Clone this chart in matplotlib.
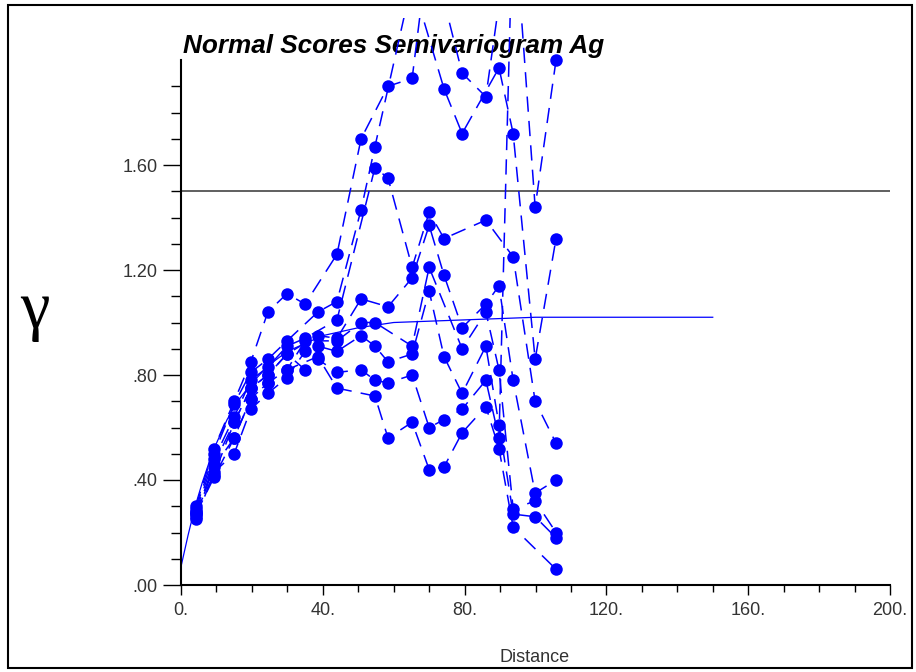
import matplotlib
matplotlib.use('Agg')
import matplotlib.pyplot as plt
from matplotlib.patches import Rectangle
import numpy as np

plt.rcParams['font.family'] = ['Liberation Sans', 'DejaVu Sans']

# experimental semivariogram, one pair of arrays per direction
# (values above 2.16 run off the top of the plot in the reference)
dir1_dist = [4.2, 9.3, 15.0, 19.7, 24.5, 29.9, 35.0, 44.0, 50.8, 58.4, 65.2, 70.0, 79.3, 86.0, 93.7, 99.9, 105.8]
dir1_gamma = [0.30, 0.52, 0.70, 0.85, 1.04, 1.11, 1.07, 1.26, 1.70, 1.90, 1.93, 2.45, 1.95, 1.86, 2.60, 1.44, 2.00]

dir2_dist = [4.2, 9.3, 15.0, 19.7, 24.5, 29.9, 38.6, 44.0, 50.8, 54.7, 65.2, 74.2, 79.3, 89.7, 93.7, 99.9, 105.8]
dir2_gamma = [0.29, 0.50, 0.69, 0.81, 0.86, 0.93, 1.04, 1.08, 1.43, 1.67, 2.30, 1.89, 1.72, 1.97, 1.72, 0.86, 1.32]

dir3_dist = [4.2, 9.3, 15.0, 19.7, 24.5, 29.9, 35.0, 44.0, 54.7, 58.4, 65.2, 70.0, 74.2, 86.0, 93.7, 99.9, 105.8]
dir3_gamma = [0.28, 0.48, 0.64, 0.78, 0.83, 0.91, 0.94, 1.01, 1.59, 1.55, 1.21, 1.42, 1.32, 1.39, 1.25, 0.70, 0.54]

dir4_dist = [4.2, 9.3, 15.0, 19.7, 24.5, 29.9, 38.6, 44.0, 50.8, 58.4, 65.2, 70.0, 74.2, 79.3, 86.0, 89.7, 93.7, 99.9, 105.8]
dir4_gamma = [0.27, 0.46, 0.62, 0.75, 0.80, 0.88, 0.95, 0.94, 1.09, 1.06, 1.17, 1.37, 1.18, 0.98, 1.07, 1.14, 0.78, 0.35, 0.40]

dir5_dist = [4.2, 9.3, 15.0, 19.7, 24.5, 29.9, 35.0, 44.0, 50.8, 54.7, 65.2, 70.0, 79.3, 86.0, 89.7, 93.7, 99.9, 105.8]
dir5_gamma = [0.26, 0.45, 0.56, 0.71, 0.77, 0.82, 0.93, 0.93, 1.00, 1.00, 0.91, 1.21, 0.90, 1.04, 0.82, 0.29, 0.32, 0.20]

dir6_dist = [4.2, 9.3, 15.0, 19.7, 24.5, 29.9, 35.0, 38.6, 44.0, 50.8, 54.7, 58.4, 65.2, 70.0, 74.2, 79.3, 86.0, 89.7, 93.7, 99.9, 105.8]
dir6_gamma = [0.25, 0.43, 0.50, 0.67, 0.73, 0.79, 0.89, 0.91, 0.89, 0.95, 0.91, 0.85, 0.88, 1.12, 0.87, 0.73, 0.91, 0.61, 0.27, 0.26, 0.18]

dir7_dist = [4.2, 9.3, 15.0, 19.7, 24.5, 29.9, 35.0, 38.6, 44.0, 50.8, 54.7, 58.4, 65.2, 70.0, 74.2, 79.3, 86.0, 89.7, 93.7]
dir7_gamma = [0.28, 0.42, 0.62, 0.75, 0.80, 0.88, 0.82, 0.86, 0.81, 0.82, 0.78, 0.77, 0.80, 0.60, 0.63, 0.67, 0.78, 0.56, 2.60]

dir8_dist = [4.2, 9.3, 15.0, 19.7, 24.5, 29.9, 38.6, 44.0, 54.7, 58.4, 65.2, 70.0, 74.2, 79.3, 86.0, 89.7, 93.7, 105.8]
dir8_gamma = [0.27, 0.41, 0.56, 0.71, 0.77, 0.82, 0.87, 0.75, 0.72, 0.56, 0.62, 0.44, 0.45, 0.58, 0.68, 0.52, 0.22, 0.06]

# fitted model
model_dist = [0, 2, 4, 6, 8, 10, 13, 16, 20, 25, 30, 35, 40, 50, 60, 80, 100, 150]
model_gamma = [0.07, 0.19, 0.30, 0.39, 0.47, 0.54, 0.63, 0.70, 0.77, 0.84, 0.89, 0.92, 0.95, 0.98, 1.00, 1.01, 1.02, 1.02]

sill = 1.5

x_ticks = [0, 40, 80, 120, 160, 200]
x_tick_labels = ['0.', '40.', '80.', '120.', '160.', '200.']
y_ticks = [0.0, 0.4, 0.8, 1.2, 1.6]
y_tick_labels = ['.00', '.40', '.80', '1.20', '1.60']


def main():
    fig = plt.figure(figsize=(9.16, 6.72), dpi=100)
    ax = fig.add_axes([181 / 916, 87 / 672, 709 / 916, 567 / 672])

    all_dirs = [
        (dir1_dist, dir1_gamma), (dir2_dist, dir2_gamma),
        (dir3_dist, dir3_gamma), (dir4_dist, dir4_gamma),
        (dir5_dist, dir5_gamma), (dir6_dist, dir6_gamma),
        (dir7_dist, dir7_gamma), (dir8_dist, dir8_gamma),
    ]
    for dist, gam in all_dirs:
        ax.plot(dist, gam, color='#0000ff', lw=1.1, dashes=(10, 6),
                marker='o', markersize=9, markeredgewidth=0, zorder=3)

    ax.plot(model_dist, model_gamma, color='#0000ff', lw=0.9, zorder=2)
    ax.axhline(sill, xmin=0, xmax=1, color='#444444', lw=1.2, zorder=2)

    ax.set_xlim(0, 200)
    ax.set_ylim(0, 2.16)

    for side in ['top', 'right']:
        ax.spines[side].set_visible(False)
    ax.spines['left'].set_bounds(0, 2.0)
    ax.spines['left'].set_linewidth(1.5)
    ax.spines['bottom'].set_linewidth(1.5)

    ax.set_xticks(x_ticks)
    ax.set_xticklabels(x_tick_labels)
    ax.set_xticks(np.arange(10, 200, 10), minor=True)
    ax.set_yticks(y_ticks)
    ax.set_yticklabels(y_tick_labels)
    ax.set_yticks([v / 10 for v in range(1, 20) if v % 4 != 0], minor=True)

    ax.tick_params(axis='x', which='major', length=7, width=1, pad=5,
                   labelsize=13, labelcolor='#333333')
    ax.tick_params(axis='x', which='minor', length=5, width=1)
    ax.tick_params(axis='y', which='major', length=13, width=1, pad=4,
                   labelsize=13, labelcolor='#333333')
    ax.tick_params(axis='y', which='minor', length=7, width=1)

    ax.text(0.5, 2.027, 'Normal Scores Semivariogram Ag', fontsize=18.8,
            fontweight='bold', fontstyle='italic', ha='left', va='baseline',
            zorder=1)

    fig.text(35 / 916, 1 - 311 / 672, 'γ', fontsize=48, ha='center', va='center',
             family=['Liberation Serif', 'DejaVu Serif'])
    fig.text(535 / 916, 1 - 657 / 672, 'Distance', fontsize=13,
             color='#333333', ha='center', va='center')

    fig.patches.append(Rectangle((8 / 916, 4 / 672), 904 / 916, 663 / 672,
                                 transform=fig.transFigure, fill=False,
                                 edgecolor='black', lw=1.5))

    plt.savefig('out.png', dpi=100)


if __name__ == "__main__":
    main()
